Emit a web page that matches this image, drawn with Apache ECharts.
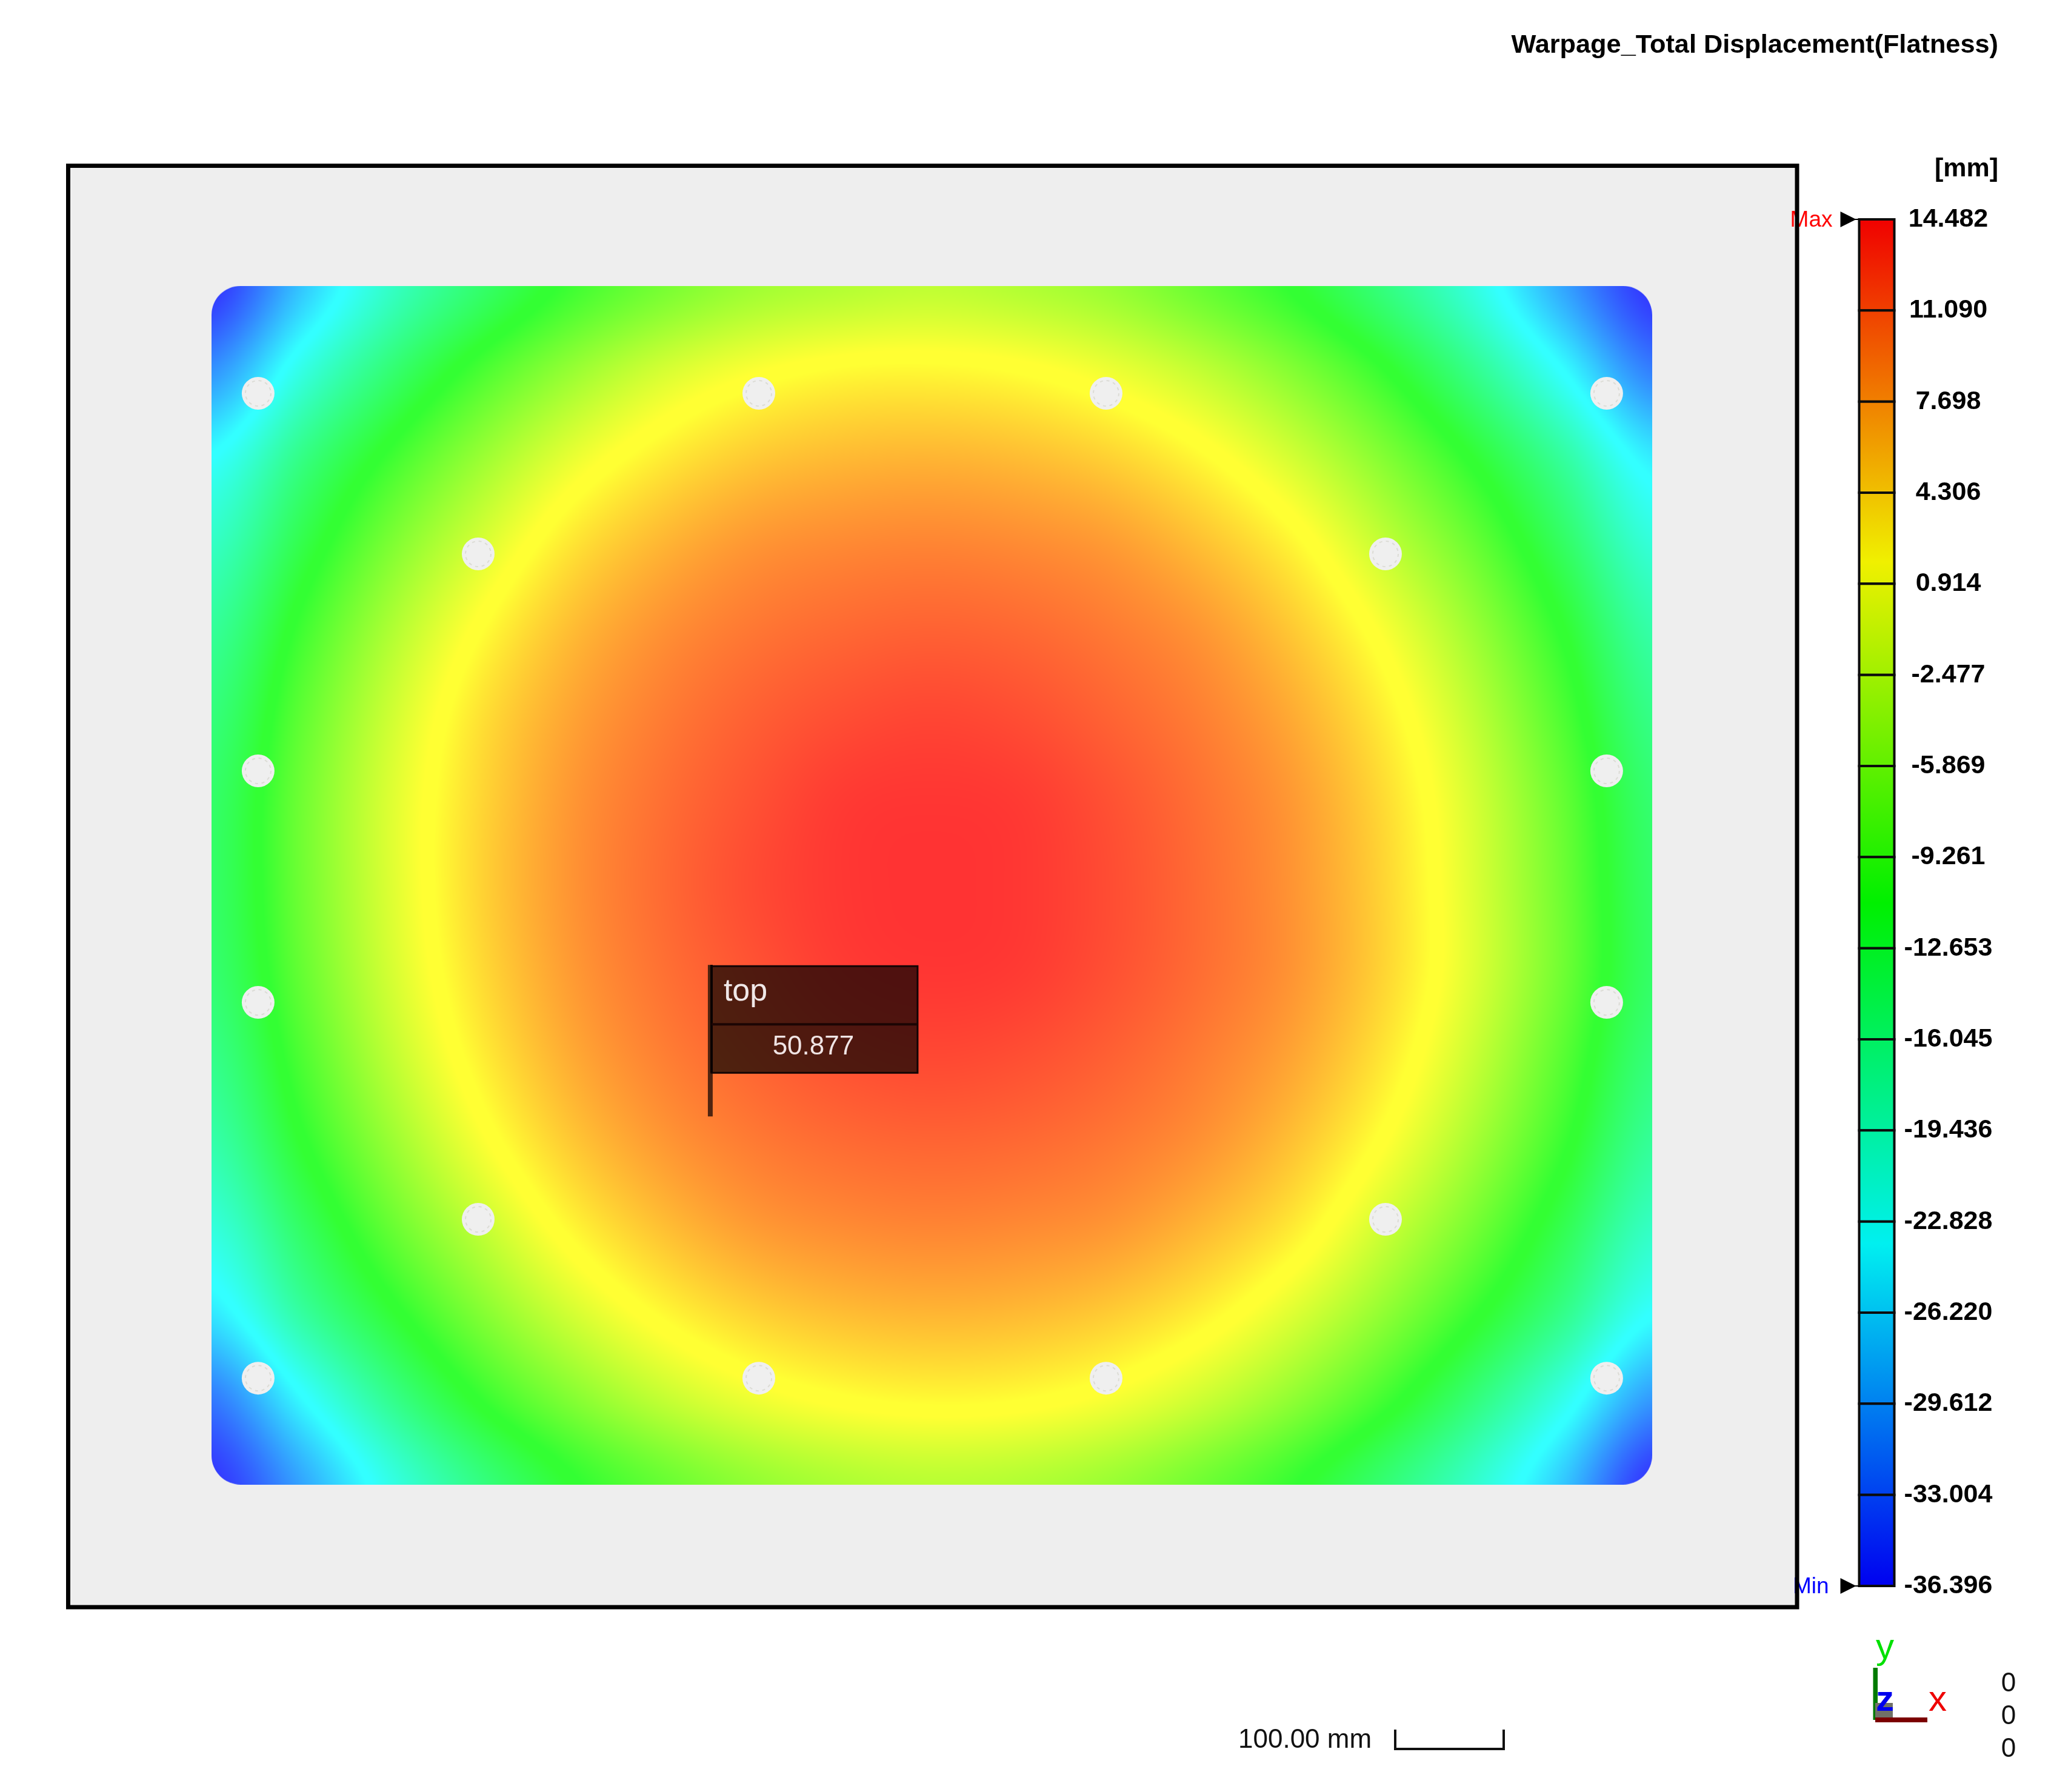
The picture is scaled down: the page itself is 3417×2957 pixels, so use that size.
<!DOCTYPE html>
<html>
<head>
<meta charset="utf-8">
<title>Warpage_Total Displacement(Flatness)</title>
<script src="https://cdn.jsdelivr.net/npm/echarts@6/dist/echarts.min.js"></script>
<style>
html, body { margin: 0; padding: 0; background: #fff; }
#chart { width: 3417px; height: 2957px; }
</style>
</head>
<body>
<div id="chart"></div>
<script>
// colour bar labels, top to bottom [mm]
const colorbarTicks = [14.482, 11.090, 7.698, 4.306, 0.914, -2.477, -5.869, -9.261,
  -12.653, -16.045, -19.436, -22.828, -26.220, -29.612, -33.004, -36.396]
const extremeNames = ['Max', 'Min']
const extremeValues = [14.482, -36.396]
const extremeColors = ['#ff0000', '#0000ff']

// colour scale of the bar
const barValues = [14.482, 1.762, -10.957, -23.676, -36.396]
const barColors = [[240, 0, 0], [240, 240, 0], [0, 240, 0], [0, 240, 240], [0, 0, 240]]
// the plate is the same scale lifted by the lighting, with slightly wider yellow / green / cyan bands
const plateValues = [14.482, 2.15, 1.35, -10.65, -11.25, -23.4, -23.9, -36.396]
const plateColors = [[255, 51, 51], [255, 255, 51], [255, 255, 51], [51, 255, 51], [51, 255, 51], [51, 255, 255], [51, 255, 255], [51, 51, 255]]

// plate size and read-off nodes [mm], y measured up from the lower edge
const plateWidth = 1306
const plateHeight = 1087
const xNodes = [0, 81.6, 163.3, 244.9, 326.5, 408.1, 489.8, 571.4, 653, 734.6, 816.3, 897.9, 979.5, 1061.1, 1142.8, 1224.4, 1306]
const yNodes = [1087, 1009.4, 931.7, 854.1, 776.4, 698.8, 621.1, 543.5, 465.9, 388.2, 310.6, 232.9, 155.3, 77.6, 0]

const displacement = [
  [-36.4, -27.4, -20.0, -14.6, -10.0, -6.7, -4.3, -3.1, -2.4, -3.2, -4.7, -7.5, -10.9, -15.6, -21.4, -29.2, -36.4],
  [-30.4, -21.8, -15.0, -9.3, -4.7, -1.1, 1.2, 2.4, 2.6, 2.0, 0.4, -2.2, -5.8, -10.4, -16.4, -23.6, -31.6],
  [-23.6, -16.2, -10.0, -4.6, 0.0, 3.2, 5.3, 6.3, 6.6, 6.1, 4.8, 2.4, -1.2, -5.8, -11.2, -17.6, -25.0],
  [-20.0, -12.8, -6.3, -1.0, 3.6, 6.5, 8.4, 9.2, 9.5, 9.1, 8.1, 5.9, 2.7, -2.1, -7.4, -14.0, -21.2],
  [-17.4, -10.0, -3.4, 2.0, 6.1, 8.7, 10.3, 11.2, 11.6, 11.2, 10.1, 8.4, 5.4, 1.1, -4.4, -11.0, -18.3],
  [-15.6, -8.1, -1.5, 3.9, 7.6, 10.0, 11.7, 12.8, 13.3, 12.8, 11.5, 9.8, 7.2, 3.2, -2.3, -9.0, -16.3],
  [-14.5, -7.1, -0.6, 4.6, 8.4, 10.8, 12.6, 14.0, 14.3, 14.0, 12.6, 10.7, 8.3, 4.4, -1.0, -7.6, -14.9],
  [-14.4, -7.1, -0.6, 4.8, 8.6, 11.1, 13.0, 14.2, 14.5, 14.2, 12.9, 11.0, 8.6, 4.8, -0.6, -7.1, -14.4],
  [-14.9, -7.7, -1.1, 4.3, 8.2, 10.7, 12.5, 13.9, 14.3, 14.0, 12.7, 10.9, 8.6, 4.8, -0.5, -7.0, -14.3],
  [-16.4, -9.1, -2.4, 3.1, 7.2, 9.8, 11.5, 12.7, 13.2, 12.8, 11.7, 10.0, 7.6, 3.7, -1.7, -8.3, -15.5],
  [-18.4, -11.1, -4.6, 1.0, 5.4, 8.3, 10.1, 11.1, 11.5, 11.2, 10.3, 8.7, 5.9, 1.7, -3.7, -10.1, -17.3],
  [-21.4, -14.2, -7.6, -2.2, 2.6, 5.9, 8.1, 9.1, 9.5, 9.2, 8.4, 6.4, 3.4, -1.4, -6.6, -12.9, -19.9],
  [-25.3, -17.8, -11.5, -5.9, -1.2, 2.4, 4.8, 6.1, 6.6, 6.3, 5.2, 3.0, -0.5, -5.0, -10.3, -16.3, -23.5],
  [-32.0, -24.0, -16.6, -10.5, -5.9, -2.2, 0.4, 1.9, 2.5, 2.2, 0.9, -1.6, -5.1, -9.6, -15.3, -22.0, -30.0],
  [-36.4, -29.4, -21.9, -15.9, -11.1, -7.7, -5.1, -3.5, -2.8, -3.2, -4.6, -7.1, -10.4, -14.9, -20.2, -27.1, -36.4]
]

// mounting holes [mm]
const holeX = [42.3, 496.2, 811, 1264.8, 241.8, 1064.3, 42.3, 1264.8, 42.3, 1264.8, 241.8, 1064.3, 42.3, 496.2, 811, 1264.8]
const holeY = [989.6, 989.6, 989.6, 989.6, 844, 844, 647.3, 647.3, 437.4, 437.4, 240.7, 240.7, 96.7, 96.7, 96.7, 96.7]

// probe flag
const probeName = 'top'
const probeValue = '50.877'
const probeX = [452.2]
const probeY = [334]

const FONT = '"Liberation Sans", Arial, sans-serif'

function scaleColor(value, values, colors) {
  let i = 0
  while (i < values.length - 2 && value < values[i + 1]) i++
  let t = (values[i] - value) / (values[i] - values[i + 1])
  t = Math.min(1, Math.max(0, t))
  return [0, 1, 2].map((k) => colors[i][k] + (colors[i + 1][k] - colors[i][k]) * t)
}

function cssColor(c) {
  return 'rgb(' + Math.round(c[0]) + ',' + Math.round(c[1]) + ',' + Math.round(c[2]) + ')'
}

// smooth curve through four neighbouring samples
function smooth(a, b, c, d, t) {
  return b + 0.5 * t * (c - a + t * (2 * a - 5 * b + 4 * c - d + t * (3 * (b - c) + d - a)))
}

// shade the read-off table into a canvas of the given pixel size
let plateCanvas = null
function shadePlate(w, h) {
  if (plateCanvas) return plateCanvas
  const canvas = document.createElement('canvas')
  canvas.width = w
  canvas.height = h
  const ctx = canvas.getContext('2d')
  const image = ctx.createImageData(w, h)
  const rows = displacement.length
  const cols = displacement[0].length
  const column = new Array(cols)
  for (let py = 0; py < h; py++) {
    const v = (py / (h - 1)) * (rows - 1)
    const j = Math.min(rows - 2, Math.floor(v))
    const r0 = displacement[Math.max(0, j - 1)]
    const r1 = displacement[j]
    const r2 = displacement[j + 1]
    const r3 = displacement[Math.min(rows - 1, j + 2)]
    for (let c = 0; c < cols; c++) column[c] = smooth(r0[c], r1[c], r2[c], r3[c], v - j)
    for (let px = 0; px < w; px++) {
      const u = (px / (w - 1)) * (cols - 1)
      const i = Math.min(cols - 2, Math.floor(u))
      const value = smooth(column[Math.max(0, i - 1)], column[i], column[i + 1],
        column[Math.min(cols - 1, i + 2)], u - i)
      const color = scaleColor(value, plateValues, plateColors)
      const o = (py * w + px) * 4
      image.data[o] = color[0]
      image.data[o + 1] = color[1]
      image.data[o + 2] = color[2]
      image.data[o + 3] = 255
    }
  }
  ctx.putImageData(image, 0, 0)
  // rounded plate corners
  ctx.globalCompositeOperation = 'destination-in'
  ctx.beginPath()
  ctx.roundRect(0, 0, w, h, 48)
  ctx.fill()
  plateCanvas = canvas
  return canvas
}

function renderPlate(params, api) {
  if (params.dataIndex !== 0) return null
  const a = api.coord([0, plateHeight])
  const b = api.coord([plateWidth, 0])
  const w = Math.round(b[0] - a[0])
  const h = Math.round(b[1] - a[1])
  return {
    type: 'image',
    silent: true,
    style: { image: shadePlate(w, h), x: a[0], y: a[1], width: w, height: h }
  }
}

function renderProbe(params, api) {
  const p = api.coord([api.value(0), api.value(1)])
  const left = p[0] - 4
  const top = p[1] - 250
  return {
    type: 'group',
    silent: true,
    children: [
      { type: 'rect', shape: { x: left, y: top, width: 8, height: 250 }, style: { fill: '#4f2410' } },
      {
        type: 'rect',
        shape: { x: left + 6, y: top + 2, width: 340, height: 176 },
        style: { fill: 'rgba(0,0,0,0.69)', stroke: '#140505', lineWidth: 3 }
      },
      { type: 'rect', shape: { x: left + 4, y: top, width: 4, height: 178 }, style: { fill: '#0a0202' } },
      { type: 'rect', shape: { x: left + 6, y: top + 96, width: 340, height: 4 }, style: { fill: '#1c0504' } },
      {
        type: 'text',
        style: { text: probeName, x: left + 26, y: top + 44, font: '52px ' + FONT, fill: '#f0e8e8', textAlign: 'left', textVerticalAlign: 'middle' }
      },
      {
        type: 'text',
        style: { text: probeValue, x: left + 174, y: top + 136, font: '44px ' + FONT, fill: '#f0e4e4', textAlign: 'center', textVerticalAlign: 'middle' }
      }
    ]
  }
}

function renderBarSegment(params, api) {
  const hi = api.value(0)
  const lo = api.value(1)
  const a = api.coord([0, hi])
  const b = api.coord([1, lo])
  const stops = [{ offset: 0, color: cssColor(scaleColor(hi, barValues, barColors)) }]
  barValues.forEach((v) => {
    if (v < hi && v > lo) stops.push({ offset: (hi - v) / (hi - lo), color: cssColor(scaleColor(v, barValues, barColors)) })
  })
  stops.push({ offset: 1, color: cssColor(scaleColor(lo, barValues, barColors)) })
  return {
    type: 'rect',
    silent: true,
    shape: { x: a[0], y: a[1], width: b[0] - a[0], height: b[1] - a[1] },
    style: {
      fill: new echarts.graphic.LinearGradient(0, 0, 0, 1, stops),
      stroke: '#0c0c0c',
      lineWidth: 4
    }
  }
}

function renderExtreme(params, api) {
  const p = api.coord([0, api.value(0)])
  const i = params.dataIndex
  const right = i === 0 ? p[0] - 44 : p[0] - 50
  return {
    type: 'group',
    silent: true,
    children: [
      {
        type: 'polygon',
        shape: { points: [[p[0] - 31, p[1] - 13], [p[0] - 5, p[1]], [p[0] - 31, p[1] + 13]] },
        style: { fill: '#000' }
      },
      { type: 'rect', shape: { x: p[0] - 8, y: p[1] - 1, width: 8, height: 2 }, style: { fill: '#000' } },
      {
        type: 'text',
        style: { text: extremeNames[i], x: right, y: p[1] + 2, font: '37px ' + FONT, fill: extremeColors[i], textAlign: 'right', textVerticalAlign: 'middle' }
      }
    ]
  }
}

function label(text, x, y, font, fill, align) {
  return {
    type: 'text',
    silent: true,
    z: 20,
    style: { text: text, x: x, y: y, font: font + ' ' + FONT, fill: fill, textAlign: align || 'left', textVerticalAlign: 'middle' }
  }
}

function block(x, y, width, height, fill) {
  return { type: 'rect', silent: true, z: 20, shape: { x: x, y: y, width: width, height: height }, style: { fill: fill } }
}

const plateCells = []
displacement.forEach((row, j) => {
  row.forEach((value, i) => plateCells.push([xNodes[i], yNodes[j], value]))
})

const barSegments = colorbarTicks.slice(1).map((lo, i) => [colorbarTicks[i], lo])

const chart = echarts.init(document.getElementById('chart'))
chart.setOption({
  backgroundColor: '#ffffff',
  animation: false,
  title: {
    text: 'Warpage_Total Displacement(Flatness)',
    right: 120,
    top: 54,
    padding: 0,
    textStyle: { fontFamily: FONT, fontSize: 43.3, fontWeight: 'bold', color: '#000' }
  },
  grid: [
    // plate view, axes in mm
    { left: 112.5, top: 273.5, width: 2852.5, height: 2378.5, show: true, backgroundColor: '#eeeeee', borderWidth: 0 },
    // colour bar
    { left: 3067.5, top: 362, width: 58, height: 2255 }
  ],
  xAxis: [
    { type: 'value', gridIndex: 0, min: -129.9, max: 1437.4, show: false },
    { type: 'value', gridIndex: 1, min: 0, max: 1, show: false }
  ],
  yAxis: [
    { type: 'value', gridIndex: 0, min: -110.9, max: 1195.9, show: false },
    {
      type: 'value',
      gridIndex: 1,
      position: 'right',
      min: -36.396,
      max: 14.482,
      splitLine: { show: false },
      axisLine: { show: false },
      axisTick: { show: false },
      axisLabel: {
        customValues: colorbarTicks,
        formatter: (v) => v.toFixed(3),
        align: 'center',
        margin: 89,
        padding: [6, 0, 0, 0],
        fontFamily: FONT,
        fontSize: 43,
        fontWeight: 'bold',
        color: '#000'
      }
    }
  ],
  series: [
    {
      name: 'displacement',
      type: 'custom',
      xAxisIndex: 0,
      yAxisIndex: 0,
      data: plateCells,
      renderItem: renderPlate,
      z: 2
    },
    {
      name: 'holes',
      type: 'scatter',
      xAxisIndex: 0,
      yAxisIndex: 0,
      data: holeX.map((x, i) => [x, holeY[i]]),
      symbol: 'circle',
      symbolSize: 54,
      silent: true,
      itemStyle: { color: '#efefef', opacity: 1 },
      z: 3
    },
    {
      name: 'hole rims',
      type: 'scatter',
      xAxisIndex: 0,
      yAxisIndex: 0,
      data: holeX.map((x, i) => [x, holeY[i]]),
      symbol: 'circle',
      symbolSize: 42,
      silent: true,
      itemStyle: { color: 'transparent', borderColor: '#dcdcd6', borderWidth: 2, borderType: [5, 6], opacity: 1 },
      z: 4
    },
    {
      name: 'probe',
      type: 'custom',
      xAxisIndex: 0,
      yAxisIndex: 0,
      data: probeX.map((x, i) => [x, probeY[i]]),
      renderItem: renderProbe,
      z: 5
    },
    {
      name: 'colour bar',
      type: 'custom',
      xAxisIndex: 1,
      yAxisIndex: 1,
      data: barSegments,
      renderItem: renderBarSegment,
      z: 2
    },
    {
      name: 'extremes',
      type: 'custom',
      xAxisIndex: 1,
      yAxisIndex: 1,
      data: extremeValues.map((v) => [v]),
      renderItem: renderExtreme,
      z: 3
    }
  ],
  graphic: [
    // view frame lies over the Max / Min labels
    {
      type: 'rect',
      silent: true,
      z: 10,
      shape: { x: 112.5, y: 273.5, width: 2852.5, height: 2378.5 },
      style: { fill: 'transparent', stroke: '#000', lineWidth: 7 }
    },
    label('[mm]', 3297, 279, 'bold 43px', '#000', 'right'),
    // scale bar
    label('100.00 mm', 2043, 2872, '44px', '#111'),
    {
      type: 'polyline',
      silent: true,
      z: 20,
      shape: { points: [[2302, 2854], [2302, 2886], [2481, 2886], [2481, 2854]] },
      style: { stroke: '#111', lineWidth: 4, fill: 'none' }
    },
    // axis triad
    block(3090.5, 2752, 7.5, 86, '#007a00'),
    block(3094, 2810, 29, 28, '#717167'),
    block(3094, 2834, 86, 8, '#7c0000'),
    label('y', 3110, 2720, '60px', '#00e000', 'center'),
    label('z', 3110, 2806, 'bold 60px', '#0000ee', 'center'),
    label('x', 3197, 2806, '60px', '#ee0000', 'center'),
    label('0', 3314, 2779, '44px', '#111', 'center'),
    label('0', 3314, 2833, '44px', '#111', 'center'),
    label('0', 3314, 2887, '44px', '#111', 'center')
  ]
})
</script>
</body>
</html>
